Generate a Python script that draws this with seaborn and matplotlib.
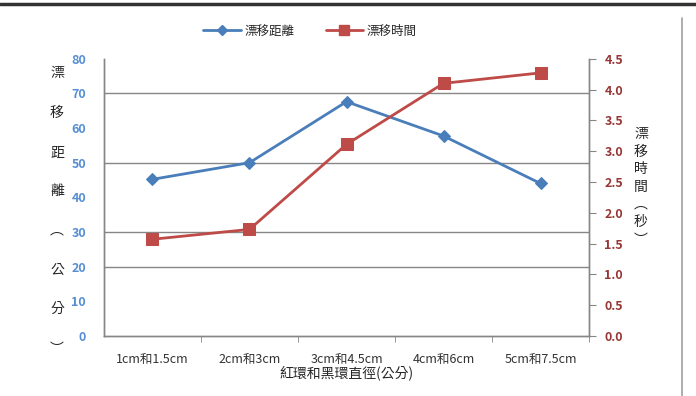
import matplotlib
matplotlib.use("Agg")
import matplotlib.pyplot as plt
import seaborn as sns
import pandas as pd
from matplotlib.lines import Line2D
from matplotlib.ticker import FixedLocator


# -----------------------------
# DATA
# -----------------------------
categories = ["1cm和1.5cm", "2cm和3cm", "3cm和4.5cm", "4cm和6cm", "5cm和7.5cm"]
distance = [45.2, 50.0, 67.6, 57.7, 44.0]
drift_time = [1.57, 1.73, 3.11, 4.10, 4.27]

dist_ticks = [0, 10, 20, 30, 40, 50, 60, 70, 80]
time_ticks = [0.0, 0.5, 1.0, 1.5, 2.0, 2.5, 3.0, 3.5, 4.0, 4.5]
grid_levels = [20, 30, 50, 70]

df = pd.DataFrame({"cat": categories, "dist": distance, "time": drift_time})


# -----------------------------
# STYLE
# -----------------------------
sns.set_style("white")
plt.rcParams["font.family"] = ["Noto Sans CJK TC", "DejaVu Sans"]

blue = "#4A7EBB"
red = "#BE4B48"
grey = "#868686"


# -----------------------------
# FIGURE
# -----------------------------
fig = plt.figure(figsize=(6.96, 3.96), dpi=100)
ax = fig.add_axes([0.1494, 0.1515, 0.6969, 0.7003])
ax2 = ax.twinx()

for lv in grid_levels:
    ax.axhline(lv, color=grey, lw=1, zorder=0)

sns.lineplot(data=df, x="cat", y="dist", ax=ax, sort=False, color=blue,
             lw=2, marker="D", markersize=6, markeredgecolor=blue, zorder=3)
sns.lineplot(data=df, x="cat", y="time", ax=ax2, sort=False, color=red,
             lw=2, marker="s", markersize=8.5, markeredgecolor=red, zorder=3)

ax.set_xlim(-0.5, len(categories) - 0.5)
ax.set_ylim(dist_ticks[0], dist_ticks[-1])
ax2.set_ylim(time_ticks[0], time_ticks[-1])

ax.set_yticks(dist_ticks)
ax2.set_yticks(time_ticks)
ax2.set_yticklabels([f"{t:.1f}" for t in time_ticks])

# spines
for a in (ax, ax2):
    a.spines["top"].set_visible(False)
    for s in ("left", "right", "bottom"):
        a.spines[s].set_color(grey)
        a.spines[s].set_linewidth(1)

# x ticks between categories
ax.xaxis.set_minor_locator(FixedLocator([i + 0.5 for i in range(len(categories))]))
ax.tick_params(axis="x", which="major", length=0, pad=12, labelsize=9, colors="#333333")
ax.tick_params(axis="x", which="minor", length=4, color=grey, bottom=True)

ax.tick_params(axis="y", length=0, pad=13, labelsize=9, labelcolor="#558ED5")
ax2.tick_params(axis="y", length=5, color=grey, pad=6, labelsize=9, labelcolor="#953735")
for lab in ax.get_yticklabels():
    lab.set_fontweight("bold")
for lab in ax2.get_yticklabels():
    lab.set_fontweight("bold")

ax.set_xlabel("紅環和黑環直徑(公分)", fontsize=10, labelpad=0)
ax.set_ylabel("")
ax2.set_ylabel("")

# stacked vertical axis titles
fig.text(57 / 696, 1 - 211 / 396, "漂\n移\n距\n離\n︵\n公\n分\n︶", ha="center", va="center",
         fontsize=10, linespacing=3.3)
fig.text(641 / 696, 1 - 187 / 396, "漂\n移\n時\n間\n︵\n秒\n︶", ha="center", va="center",
         fontsize=10, linespacing=1.33)

# legend
handles = [
    Line2D([], [], color=blue, lw=2, marker="D", markersize=5),
    Line2D([], [], color=red, lw=2, marker="s", markersize=7),
]
fig.legend(handles, ["漂移距離", "漂移時間"], loc="center", bbox_to_anchor=(310 / 696, 1 - 31 / 396),
           ncol=2, frameon=False, fontsize=9, handlelength=3, columnspacing=2.5, handletextpad=0.3)

# page border
fig.add_artist(Line2D([0, 1], [1 - 4 / 396, 1 - 4 / 396], color="#333333", lw=2.5))
fig.add_artist(Line2D([682 / 696, 682 / 696], [0, 1 - 18 / 396], color="#a0a0a0", lw=1.2))

fig.savefig("out.png", dpi=100)
